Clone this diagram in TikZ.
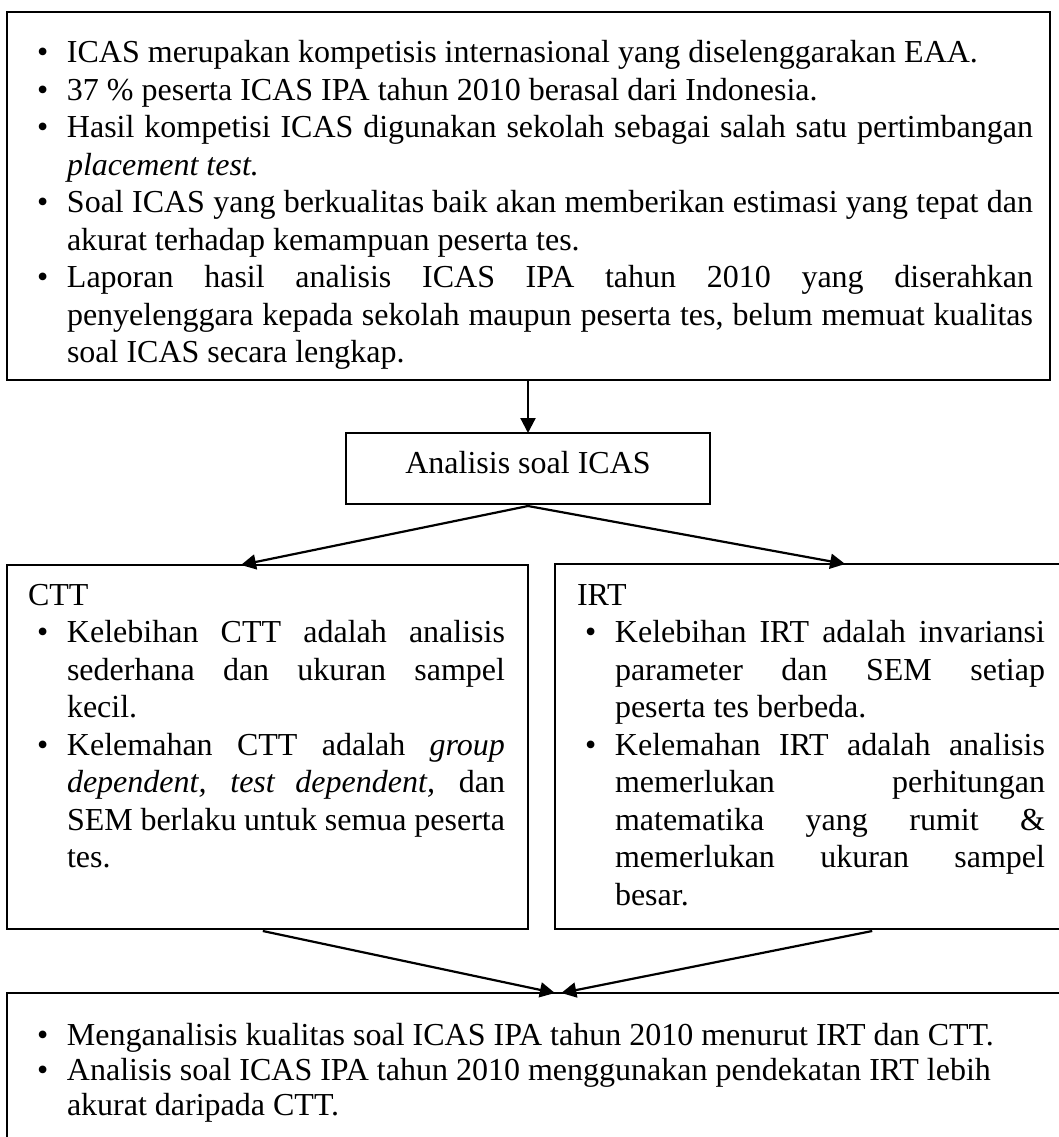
\documentclass[tikz,border=0pt]{standalone}
\usepackage{fontspec}
\setmainfont{Liberation Serif}
\usetikzlibrary{arrows.meta,calc}
\setlength{\parskip}{0pt}
\newcommand{\bitem}{\hangindent=30pt\hangafter=1\makebox[30pt][l]{\textbullet}}
\tikzset{
  boxnode/.style={draw, line width=2pt, inner sep=0pt, outer sep=0pt, anchor=north west},
  ttl/.style={inner sep=0pt, outer sep=0pt, anchor=base west, font=\fontsize{32}{37.5}\selectfont},
  txt/.style={ttl, align=justify},
  conn/.style={line width=2.2pt, -{Triangle[length=15pt,width=15pt]}}
}
\begin{document}
\begin{tikzpicture}[x=1pt,y=-1pt]
\clip (0,0) rectangle (1059,1137);
\fill[white] (0,0) rectangle (1059,1137);
% boxes
\node[boxnode, minimum width=1043pt, minimum height=368pt] (top) at (7,12) {};
\node[draw, line width=2pt, inner sep=0pt, outer sep=0pt, minimum width=364pt, minimum height=71pt,
      font=\fontsize{32}{37.5}\selectfont, text height=22pt, text depth=13pt] (ana) at (528,468.5) {Analisis soal ICAS};
\node[boxnode, minimum width=521pt, minimum height=364pt] (ctt) at (7,565) {};
\node[boxnode, minimum width=520pt, minimum height=365pt] (irt) at (555,564) {};
\node[boxnode, minimum width=1068pt, minimum height=200pt] (res) at (7,993) {};
% texts
\node[txt, text width=996pt] (toptext) at (37,63) {%
\bitem ICAS merupakan kompetisis internasional yang diselenggarakan EAA.\par
\bitem 37 \% peserta ICAS IPA tahun 2010 berasal dari Indonesia.\par
\bitem Hasil kompetisi ICAS digunakan sekolah sebagai salah satu pertimbangan \linebreak \textit{placement test.}\par
\bitem Soal ICAS yang berkualitas baik akan memberikan estimasi yang tepat dan \linebreak akurat terhadap kemampuan peserta tes.\par
\bitem Laporan hasil analisis ICAS IPA tahun 2010 yang diserahkan \linebreak penyelenggara kepada sekolah maupun peserta tes, belum memuat kualitas \linebreak soal ICAS secara lengkap.\par};
\node[ttl] (ctttitle) at (28,605) {CTT};
\node[ttl] (irttitle) at (577,605) {IRT};
\node[txt, text width=468pt] (ctttext) at (37,642.5) {%
\bitem Kelebihan CTT adalah analisis \linebreak sederhana dan ukuran sampel \linebreak kecil.\par
\bitem Kelemahan CTT adalah \textit{group} \linebreak \textit{dependent, test dependent,} dan \linebreak SEM berlaku untuk semua peserta \linebreak tes.\par};
\node[txt, text width=460pt] (irttext) at (585,642.5) {%
\bitem Kelebihan IRT adalah invariansi \linebreak parameter dan SEM setiap \linebreak peserta tes berbeda.\par
\bitem Kelemahan IRT adalah analisis \linebreak memerlukan perhitungan \linebreak matematika yang rumit \& \linebreak memerlukan ukuran sampel \linebreak besar.\par};
\node[txt, text width=1010pt, font=\fontsize{32}{35}\selectfont] (restext) at (37,1045) {%
\bitem Menganalisis kualitas soal ICAS IPA tahun 2010 menurut IRT dan CTT.\par
\bitem Analisis soal ICAS IPA tahun 2010 menggunakan pendekatan IRT lebih\newline akurat daripada CTT.\par};
% connectors
\draw[conn] (top.south -| ana.north) -- (ana.north);
\draw[conn] ($(ana.south)+(0,2)$) -- ($(ctt.north west)!0.449!(ctt.north east)$);
\draw[conn] ($(ana.south)+(0,2)$) -- ($(irt.north west)!0.558!(irt.north east)$);
\draw[conn] ($(ctt.south west)!0.491!(ctt.south east)+(0,2)$) -- ($(res.north west)!0.513!(res.north east)$);
\draw[conn] ($(irt.south west)!0.61!(irt.south east)+(0,2)$) -- ($(res.north west)!0.519!(res.north east)$);
\end{tikzpicture}
\end{document}
